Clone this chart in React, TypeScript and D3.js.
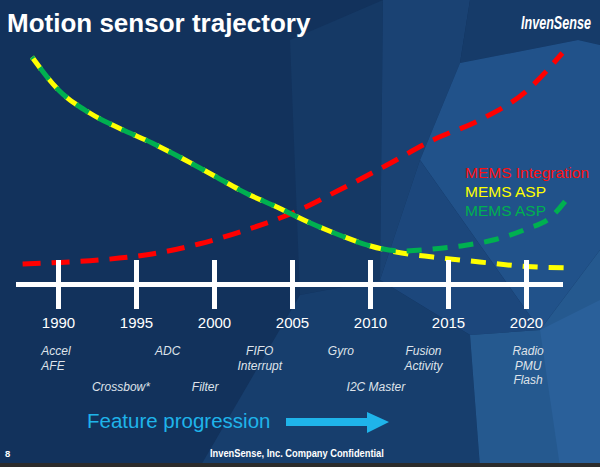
import React from "react";
import * as d3 from "d3";

// ---- data ----
const axisYears = [1990, 1995, 2000, 2005, 2010, 2015, 2020];

const integrationYears = [1987.7, 1990, 1993, 1996, 1999, 2002, 2005, 2008, 2011, 2014, 2017, 2020, 2022.3];
const integrationValues = [16, 17.5, 20.5, 26, 36, 50, 67, 90, 114.5, 140, 160, 189, 227];

const aspYellowYears = [1988.3, 1990, 1992, 1994, 1996, 1998, 2000, 2002, 2004, 2006, 2008, 2010, 2012, 2014, 2017, 2020, 2022.8];
const aspYellowValues = [223, 190, 167, 151, 137, 121, 104, 87, 73, 58, 45, 34, 27, 23, 18, 13.5, 12];

const aspGreenYears = [1988.3, 1990, 1992, 1994, 1996, 1998, 2000, 2002, 2004, 2006, 2008, 2010, 2012, 2014, 2016, 2018, 2020, 2021.5, 2022.7];
const aspGreenValues = [223, 190, 167, 151, 137, 121, 104, 87, 73, 58, 45, 34, 29, 31, 34.5, 40.5, 51, 62, 83];

const legendLabels = ["MEMS Integration", "MEMS ASP", "MEMS ASP"];
const legendColors = ["#ff1010", "#ffff00", "#00b050"];

// feature labels: anchor year, tier (0 = upper block, 1 = lower row), alignment, lines
const featureYears = [1988.9, 1997, 1994, 1999.4, 2002.9, 2008.1, 2010.35, 2013.4, 2020.1];
const featureTiers = [0, 0, 1, 1, 0, 0, 1, 0, 0];
const featureAnchors = ["start", "middle", "middle", "middle", "middle", "middle", "middle", "middle", "middle"];
const featureTexts = [
  ["Accel", "AFE"],
  ["ADC"],
  ["Crossbow*"],
  ["Filter"],
  ["FIFO", "Interrupt"],
  ["Gyro"],
  ["I2C Master"],
  ["Fusion", "Activity"],
  ["Radio", "PMU", "Flash"],
];

const titleText = "Motion sensor trajectory";
const logoText = "InvenSense";
const progressionText = "Feature progression";
const footerText = "InvenSense, Inc. Company Confidential";
const pageNumber = "8";

export default function App() {
  const W = 600;
  const H = 467;
  const x = d3.scaleLinear().domain([1990, 2020]).range([58.5, 526.5]);
  const y = d3.scaleLinear().domain([0, 230]).range([280, 50]);

  const line = d3
    .line<[number, number]>()
    .x((d) => x(d[0]))
    .y((d) => y(d[1]))
    .curve(d3.curveMonotoneX);

  const zip = (a: number[], b: number[]) => a.map((v, i) => [v, b[i]] as [number, number]);

  const redPath = line(zip(integrationYears, integrationValues)) || "";
  const yellowPath = line(zip(aspYellowYears, aspYellowValues)) || "";
  const greenPath = line(zip(aspGreenYears, aspGreenValues)) || "";

  const axisY = 284.5;
  const font = "Arial, 'Liberation Sans', Helvetica, sans-serif";

  const facets: { pts: number[][]; fill: string }[] = [
    { pts: [[290, 40], [383, 0], [380, 280], [300, 295]], fill: "#153965" },
    { pts: [[383, 0], [470, 0], [460, 63], [420, 160], [380, 280]], fill: "#1a4273" },
    { pts: [[470, 0], [600, 0], [600, 45], [578, 40], [460, 63]], fill: "#163b69" },
    { pts: [[460, 63], [578, 40], [600, 45], [600, 250], [540, 330], [420, 160]], fill: "#21528a" },
    { pts: [[420, 160], [540, 330], [470, 335], [380, 280]], fill: "#1c477c" },
    { pts: [[200, 467], [300, 295], [380, 280], [470, 335], [480, 467]], fill: "#173e6d" },
    { pts: [[470, 335], [540, 330], [600, 250], [600, 467], [480, 467]], fill: "#25598f" },
    { pts: [[540, 330], [600, 300], [600, 467], [560, 467]], fill: "#2a609a" },
  ];

  return (
    <svg
      width={W}
      height={H}
      viewBox={`0 0 ${W} ${H}`}
      style={{ position: "fixed", left: 0, top: 0, display: "block" }}
    >
      <rect x={0} y={0} width={W} height={H} fill="#12325c" />
      {facets.map((f, i) => (
        <polygon key={i} points={f.pts.map((p) => p.join(",")).join(" ")} fill={f.fill} />
      ))}
      <rect x={0} y={463} width={W} height={4} fill="#2b2b2b" />

      {/* title + logo */}
      <text x={7} y={32} fill="#ffffff" fontFamily={font} fontWeight="bold" fontSize={26}>
        {titleText}
      </text>
      <g transform="translate(521,29) scale(0.7,1)">
        <text
          x={0}
          y={0}
          fill="#ffffff"
          fontFamily={font}
          fontWeight="bold"
          fontStyle="italic"
          fontSize={18}
        >
          {logoText}
        </text>
      </g>

      {/* curves */}
      <path d={redPath} fill="none" stroke="#ff0000" strokeWidth={5} strokeDasharray="18,11" />
      <path d={yellowPath} fill="none" stroke="#ffff00" strokeWidth={5} strokeDasharray="15,11" />
      <path
        d={greenPath}
        fill="none"
        stroke="#00b050"
        strokeWidth={5}
        strokeDasharray="15,11"
        strokeDashoffset={13}
      />

      {/* legend */}
      {legendLabels.map((t, i) => (
        <text
          key={i}
          x={465}
          y={177.5 + i * 19}
          fill={legendColors[i]}
          fontFamily={font}
          fontSize={15.5}
        >
          {t}
        </text>
      ))}

      {/* timeline axis */}
      <line x1={16} x2={563} y1={axisY} y2={axisY} stroke="#ffffff" strokeWidth={5} />
      {axisYears.map((yr) => (
        <g key={yr}>
          <line x1={x(yr)} x2={x(yr)} y1={260} y2={309} stroke="#ffffff" strokeWidth={5} />
          <text
            x={x(yr)}
            y={327.5}
            fill="#ffffff"
            fontFamily={font}
            fontSize={15}
            textAnchor="middle"
          >
            {yr}
          </text>
        </g>
      ))}

      {/* feature labels */}
      {featureTexts.map((lines, i) =>
        lines.map((t, j) => (
          <text
            key={`${i}-${j}`}
            x={x(featureYears[i])}
            y={(featureTiers[i] === 0 ? 351 : 387) + j * 14.5 + 4.2}
            fill="#dfe3ea"
            fontFamily={font}
            fontStyle="italic"
            fontSize={12}
            textAnchor={featureAnchors[i]}
          >
            {t}
          </text>
        ))
      )}

      {/* feature progression */}
      <text x={87} y={428} fill="#1fb4ea" fontFamily={font} fontSize={20.5}>
        {progressionText}
      </text>
      <polygon
        points="286,418 367,418 367,412 389,422 367,433 367,426 286,426"
        fill="#1fb4ea"
      />

      {/* footer */}
      <text x={5} y={457} fill="#ffffff" fontFamily={font} fontWeight="bold" fontSize={9.5}>
        {pageNumber}
      </text>
      <g transform="translate(210,457) scale(0.93,1)">
        <text x={0} y={0} fill="#ffffff" fontFamily={font} fontWeight="bold" fontSize={10}>
          {footerText}
        </text>
      </g>
    </svg>
  );
}
